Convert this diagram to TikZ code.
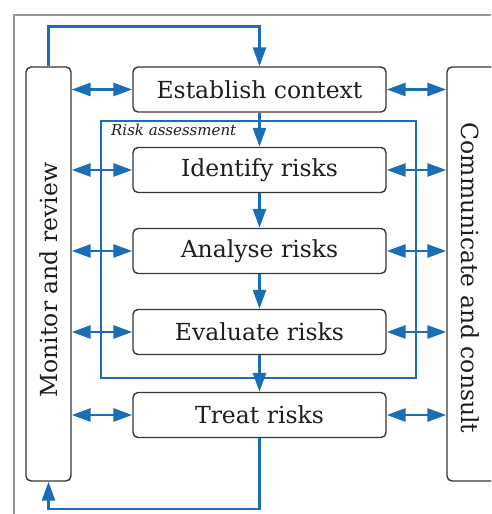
\documentclass[tikz,border=0pt]{standalone}
\usepackage{fontspec}
\setmainfont{DejaVu Serif}
\usetikzlibrary{arrows.meta}
\definecolor{flowblue}{RGB}{26,110,183}
\definecolor{boxline}{RGB}{55,55,55}
\definecolor{ink}{RGB}{30,30,30}
\definecolor{framegray}{RGB}{150,150,150}
\tikzset{
  tip/.tip={Triangle[length=19pt,width=13pt]},
  stepbox/.style={draw=boxline, line width=1.4pt, rounded corners=5pt, fill=white,
    minimum width=253pt, minimum height=45pt, inner sep=0pt, text=ink,
    font=\fontsize{23.5}{27}\selectfont},
  sidebox/.style={draw=boxline, line width=1.4pt, rounded corners=5pt,
    minimum height=414pt, inner sep=0pt},
  sidetext/.style={text=ink, font=\fontsize{23.5}{27}\selectfont, inner sep=0pt},
  flow/.style={draw=flowblue, line width=2.8pt, -tip},
  dbl/.style={draw=flowblue, line width=2.8pt, tip-tip},
  stage/.style={draw=flowblue, line width=2.4pt},
}
\begin{document}
\begin{tikzpicture}[x=1pt,y=1pt]
  \useasboundingbox (0,0) rectangle (491,514);
  \clip (0,0) rectangle (491,514);

  % outer frame (top and left edges)
  \draw[framegray, line width=1.5pt] (14,0) -- (14,499) -- (491,499);

  % risk assessment stage
  \draw[stage] (101,136) rectangle (416,393);
  \node[anchor=base west, inner sep=0pt, text=ink,
        font=\fontsize{15}{18}\selectfont\itshape] (ralabel) at (111,378) {Risk assessment};

  % side columns
  \node[sidebox, minimum width=45pt] (mon) at (48.5,240) {};
  \node[sidetext, rotate=90] (montext) at (48.5,234) {Monitor and review};
  \node[sidebox, minimum width=63pt] (com) at (478.5,240) {};
  \node[sidetext, rotate=-90] (comtext) at (470,236) {Communicate and consult};

  % process steps
  \node[stepbox] (est)   at (259.5,424.5) {Establish context};
  \node[stepbox] (ident) at (259.5,344) {Identify risks};
  \node[stepbox] (anal)  at (259.5,263) {Analyse risks};
  \node[stepbox] (eval)  at (259.5,182) {Evaluate risks};
  \node[stepbox] (treat) at (259.5,99) {Treat risks};

  % main flow
  \draw[flow] (est.south) -- (ident.north);
  \draw[flow] (ident.south) -- (anal.north);
  \draw[flow] (anal.south) -- (eval.north);
  \draw[flow] (eval.south) -- (treat.north);

  % feedback loops through monitoring
  \draw[flow] (mon.north) -- ++(0,40) -| (est.north);
  \draw[flow] (treat.south) -- (treat.south |- 0,5) -| (mon.south);

  % two-way links with the side columns
  \foreach \s in {est,ident,anal,eval,treat}{
    \draw[dbl] (mon.east |- \s.west) -- (\s.west);
    \draw[dbl] (\s.east) -- (com.west |- \s.east);
  }
\end{tikzpicture}
\end{document}
